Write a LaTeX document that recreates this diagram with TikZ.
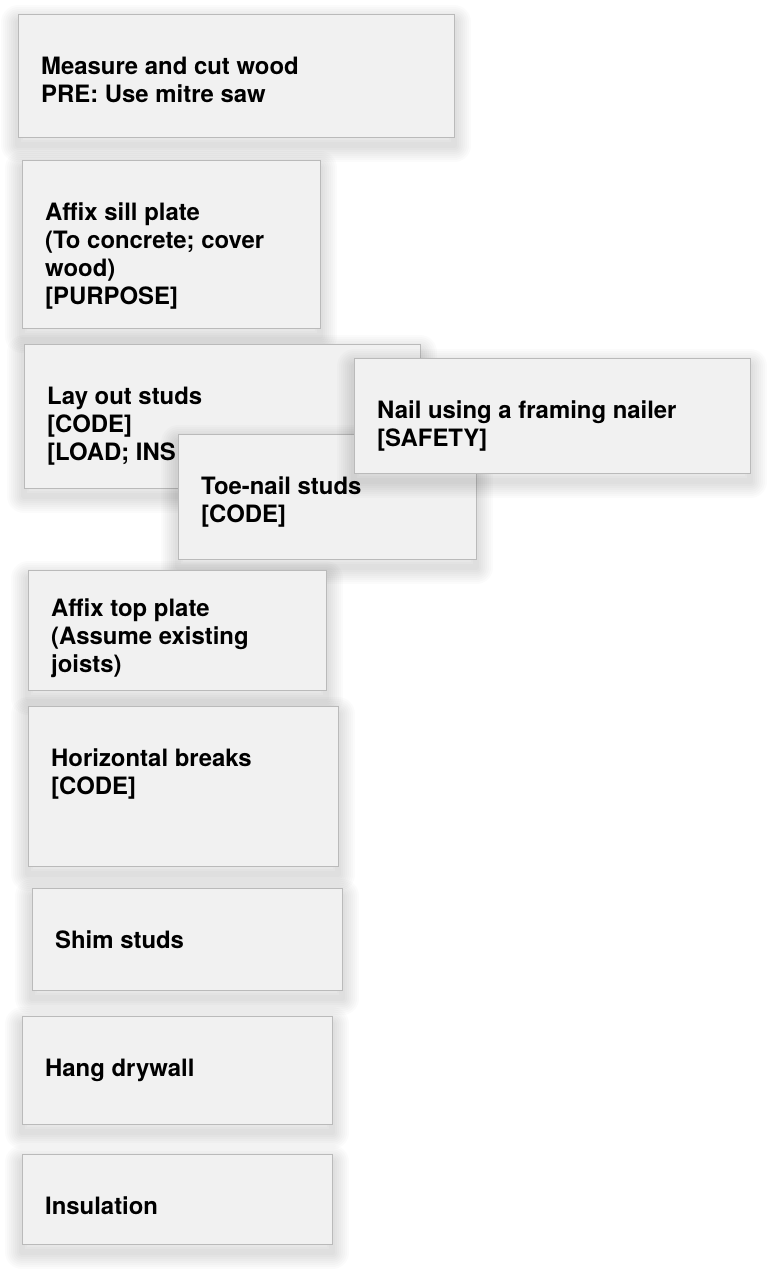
\documentclass[tikz,border=0pt]{standalone}
\usepackage{fontspec}
\setmainfont{TeX Gyre Heros}
\begin{document}
\begin{tikzpicture}[x=1pt,y=-1pt,
  % one ring of the soft drop shadow, drawn before the card itself
  shadowring/.style={preaction={draw=black, fill=none, line width=#1,
    opacity=0.016, line join=round, transform canvas={yshift=-8pt}}},
  card/.style={shadowring=34pt, shadowring=30pt, shadowring=26pt,
    shadowring=22pt, shadowring=18pt, shadowring=14pt, shadowring=10pt,
    shadowring=6pt,
    draw=black!27, line width=0.8pt, fill=black!5.5, inner sep=0pt,
    anchor=north west},
  cardtext/.style={anchor=base west, inner sep=0pt,
    font=\fontsize{23.9}{28}\selectfont\bfseries}]
  % page background
  \fill[white] (0,0) rectangle (780,1280);
  \useasboundingbox (0,0) rectangle (780,1280);

  \node[card, minimum width=436pt, minimum height=123pt] (measure) at (18,14) {};
  \node[cardtext] (measuret) at ([shift={(23,60)}]measure.north west)
    {\begin{tabular}[t]{@{}l@{}}Measure and cut wood\\PRE: Use mitre saw\end{tabular}};

  \node[card, minimum width=298pt, minimum height=168pt] (sill) at (22,160) {};
  \node[cardtext] (sillt) at ([shift={(23,60)}]sill.north west)
    {\begin{tabular}[t]{@{}l@{}}Affix sill plate\\(To concrete; cover\\wood)\\\relax[PURPOSE]\end{tabular}};

  \node[card, minimum width=396pt, minimum height=144pt] (layout) at (24,344) {};
  \node[cardtext] (layoutt) at ([shift={(23,60)}]layout.north west)
    {\begin{tabular}[t]{@{}l@{}}Lay out studs\\\relax[CODE]\\\relax[LOAD; INS\end{tabular}};

  \node[card, minimum width=298pt, minimum height=125pt] (toenail) at (178,434) {};
  \node[cardtext] (toenailt) at ([shift={(23,60)}]toenail.north west)
    {\begin{tabular}[t]{@{}l@{}}Toe-nail studs\\\relax[CODE]\end{tabular}};

  \node[card, minimum width=396pt, minimum height=115pt] (nailer) at (354,358) {};
  \node[cardtext] (nailert) at ([shift={(23,60)}]nailer.north west)
    {\begin{tabular}[t]{@{}l@{}}Nail using a framing nailer\\\relax[SAFETY]\end{tabular}};

  \node[card, minimum width=298pt, minimum height=120pt] (topplate) at (28,570) {};
  \node[cardtext] (topplatet) at ([shift={(23,46)}]topplate.north west)
    {\begin{tabular}[t]{@{}l@{}}Affix top plate\\(Assume existing\\joists)\end{tabular}};

  \node[card, minimum width=310pt, minimum height=160pt] (breaks) at (28,706) {};
  \node[cardtext] (breakst) at ([shift={(23,60)}]breaks.north west)
    {\begin{tabular}[t]{@{}l@{}}Horizontal breaks\\\relax[CODE]\end{tabular}};

  \node[card, minimum width=310pt, minimum height=102pt] (shim) at (32,888) {};
  \node[cardtext] (shimt) at ([shift={(23,60)}]shim.north west) {Shim studs};

  \node[card, minimum width=310pt, minimum height=108pt] (drywall) at (22,1016) {};
  \node[cardtext] (drywallt) at ([shift={(23,60)}]drywall.north west) {Hang drywall};

  \node[card, minimum width=310pt, minimum height=90pt] (insul) at (22,1154) {};
  \node[cardtext] (insult) at ([shift={(23,60)}]insul.north west) {Insulation};
\end{tikzpicture}
\end{document}
